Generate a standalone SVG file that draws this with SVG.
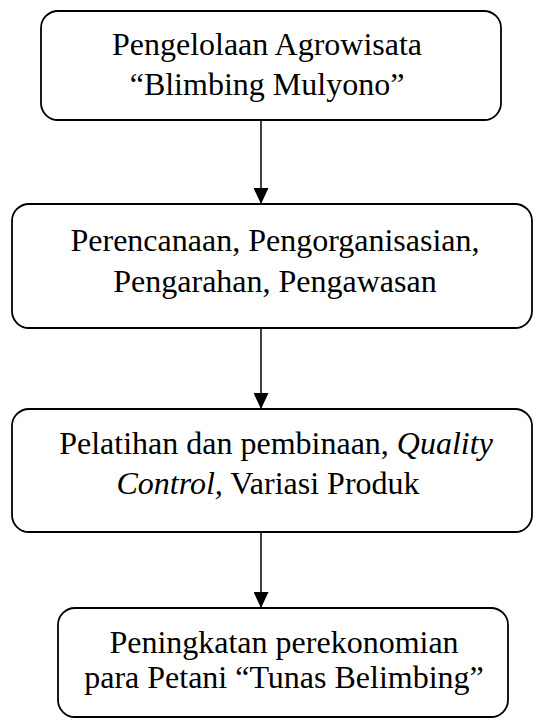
<svg xmlns="http://www.w3.org/2000/svg" width="533" height="726" viewBox="0 0 533 726">
<style>
.box{fill:#fff;stroke:#000;stroke-width:1.8}
.t{font-family:"Liberation Serif","Times New Roman",serif;font-size:32px;fill:#000;text-anchor:middle}
.c{stroke:#000;stroke-width:1.5;fill:none}
</style>
<defs>
<marker id="ah" markerWidth="16" markerHeight="15" refX="16" refY="7.5" orient="auto" markerUnits="userSpaceOnUse">
<path d="M0,0 L16,7.5 L0,15 Z" fill="#000"/>
</marker>
</defs>
<rect width="533" height="726" fill="#fff"/>
<g id="connectors">
<line class="c" x1="261" y1="120" x2="261" y2="204" marker-end="url(#ah)"/>
<line class="c" x1="261" y1="328" x2="261" y2="409" marker-end="url(#ah)"/>
<line class="c" x1="261" y1="532" x2="261" y2="608" marker-end="url(#ah)"/>
</g>
<g id="n1">
<rect class="box" x="41" y="11" width="460" height="109" rx="17"/>
<text class="t" x="267" y="55" font-size="31">Pengelolaan Agrowisata</text>
<text class="t" x="267" y="95" font-size="31">“Blimbing Mulyono”</text>
</g>
<g id="n2">
<rect class="box" x="12" y="204" width="520" height="124" rx="17"/>
<text class="t" x="275" y="251">Perencanaan, Pengorganisasian,</text>
<text class="t" x="275" y="292">Pengarahan, Pengawasan</text>
</g>
<g id="n3">
<rect class="box" x="12" y="409" width="520" height="123" rx="17"/>
<text class="t" x="276" y="454">Pelatihan dan pembinaan, <tspan font-style="italic">Quality</tspan></text>
<text class="t" x="268" y="494"><tspan font-style="italic">Control,</tspan> Variasi Produk</text>
</g>
<g id="n4">
<rect class="box" x="58" y="608" width="450" height="109" rx="17"/>
<text class="t" x="284" y="653" font-size="31.5">Peningkatan perekonomian</text>
<text class="t" x="284" y="688" font-size="31.5">para Petani “Tunas Belimbing”</text>
</g>
</svg>
